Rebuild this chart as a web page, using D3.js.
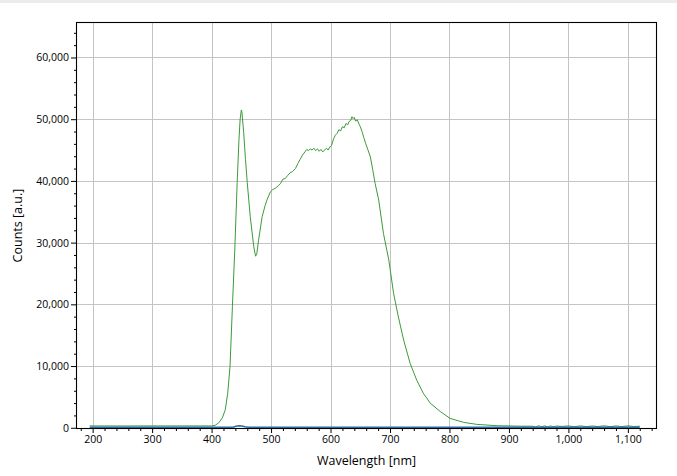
<!DOCTYPE html>
<html><head><meta charset="utf-8">
<script src="https://cdn.jsdelivr.net/npm/d3@7/dist/d3.min.js"></script>
<style>
html,body{margin:0;padding:0;background:#fff;}
svg{display:block;}
text{font-family:"Open Sans","Noto Sans",sans-serif;fill:#000;}
</style></head>
<body>
<svg id="chart" width="677" height="476"></svg>
<script>
// ---- data ----
const xTicks = [200,300,400,500,600,700,800,900,1000,1100];
const yTicks = [0,10000,20000,30000,40000,50000,60000];

const wavelength = [195,250,300,350,400,406,412,418,423,427,431,435,439,443,446,448,450,451,454,457,460,465,471,474,476,479,485,490,493,499,503,507,512,516,520,524,528,532,536,541,545,549,553,557,560,563,566,569,572,575,578,581,584,587,590,593,596,599,602,605,608,611,614,617,620,623,626,629,631,634,636,638,640,642,645,648,650,653,656,659,663,667,671,675,681,689,698,706,714,723,734,745,756,768,785,801,824,846,880,920,940,945,950,955,960,965,970,975,980,990,1000,1010,1020,1030,1040,1050,1060,1070,1080,1090,1100,1110,1120];
const counts = [300,290,300,300,300,400,800,1600,2900,5500,9900,19600,28800,39700,46600,50000,51500,51200,47800,43500,39700,34200,29300,27800,28200,30400,34200,36000,36900,38250,38600,38800,39200,39600,40300,40400,40900,41300,41500,42000,42800,43500,44200,44700,45100,44900,45200,45000,45300,44900,45200,44800,45100,44700,45000,45300,45000,45500,45800,46800,47400,47700,48300,48100,48800,48600,49300,49100,49600,49800,50400,50100,50300,49700,49900,49200,48800,48000,47000,46100,45000,43900,41800,39600,36900,31500,27200,21800,18000,14200,10400,7700,5600,3950,2600,1520,870,550,330,260,250,120,330,150,320,140,300,160,280,220,300,170,310,180,290,200,320,170,300,190,310,200,250];

const refWavelength = [195,300,400,436,441,446,451,456,461,500,600,700,800,900,1000,1100,1120];
const refCounts = [0,0,0,0,150,220,180,60,0,0,0,0,0,0,0,0,0];

// ---- layout ----
const W = 677, H = 476;
const L = 76, T = 22, R = 657, B = 429;
const svg = d3.select("#chart");

svg.append("rect").attr("x",0).attr("y",0).attr("width",W).attr("height",3).attr("fill","#ececec");

const x = d3.scaleLinear().domain([172,1149]).range([L,R]);
const y = d3.scaleLinear().domain([-200,65750]).range([B,T]);

// grid
const g = svg.append("g");
g.selectAll(".vg").data(xTicks).join("line")
  .attr("x1",d=>Math.round(x(d))+0.5).attr("x2",d=>Math.round(x(d))+0.5)
  .attr("y1",T).attr("y2",B).attr("stroke","#c4c4c4").attr("stroke-width",1);
g.selectAll(".hg").data(yTicks).join("line")
  .attr("y1",d=>Math.round(y(d))+0.5).attr("y2",d=>Math.round(y(d))+0.5)
  .attr("x1",L).attr("x2",R).attr("stroke","#c4c4c4").attr("stroke-width",1);

// clip
svg.append("clipPath").attr("id","clip").append("rect")
  .attr("x",L).attr("y",T).attr("width",R-L).attr("height",B-T);

const line = d3.line().x(d=>x(d[0])).y(d=>y(d[1]));
svg.append("path").datum(wavelength.map((w,i)=>[w,counts[i]]))
  .attr("clip-path","url(#clip)")
  .attr("d",line).attr("fill","none").attr("stroke","#3c9a3c").attr("stroke-width",1);

// axes
const xAxis = d3.axisBottom(x).tickValues(xTicks).tickSize(4).tickPadding(3).tickFormat(d3.format(","));
const xMinor = d3.axisBottom(x).tickValues(d3.range(180,1141,20).filter(v=>v%100!==0)).tickSize(2).tickFormat("");
const yAxis = d3.axisLeft(y).tickValues(yTicks).tickSize(5).tickPadding(2).tickFormat(d3.format(","));
const yMinor = d3.axisLeft(y).tickValues(d3.range(2000,65001,2000).filter(v=>v%10000!==0)).tickSize(2).tickFormat("");

function styleAxis(sel){
  sel.select(".domain").remove();
  sel.selectAll("line").attr("stroke","#000");
  sel.selectAll("text").attr("font-size","10.5px").attr("fill","#000").attr("font-family",null);
}
svg.append("g").attr("transform",`translate(0,${B})`).call(xAxis).call(styleAxis);
svg.append("g").attr("transform",`translate(0,${B})`).call(xMinor).call(styleAxis);
svg.append("g").attr("transform",`translate(${L},0)`).call(yAxis).call(styleAxis);
svg.append("g").attr("transform",`translate(${L},0)`).call(yMinor).call(styleAxis);

// frame
svg.append("rect").attr("x",L+0.5).attr("y",T+0.5).attr("width",R-L-1).attr("height",B-T-1)
  .attr("fill","none").attr("stroke","#000").attr("stroke-width",1.1);

// reference (blue) trace drawn on top of the frame so it stays visible at zero
svg.append("path").datum(refWavelength.map((w,i)=>[w,refCounts[i]]))
  .attr("d",d3.line().x(d=>x(d[0])).y(d=>y(d[1])-0.6))
  .attr("fill","none").attr("stroke","#2a6aa6").attr("stroke-width",1.5);

// titles
svg.append("text").attr("x",(L+R)/2).attr("y",465).attr("text-anchor","middle")
  .attr("font-size","12.5px").text("Wavelength [nm]");
svg.append("text").attr("transform",`translate(22,${(T+B)/2}) rotate(-90)`).attr("text-anchor","middle")
  .attr("font-size","12.5px").text("Counts [a.u.]");
</script>
</body></html>
